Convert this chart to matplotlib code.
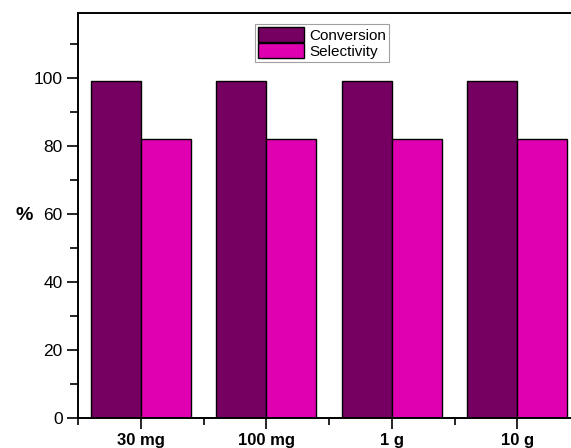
import matplotlib.pyplot as plt
import numpy as np
from matplotlib.ticker import MultipleLocator

plt.rcParams['font.family'] = ['Liberation Sans', 'DejaVu Sans']

# Catalyst amount vs. conversion / selectivity
amounts = ['30 mg', '100 mg', '1 g', '10 g']
conversion = [99, 99, 99, 99]
selectivity = [82, 82, 82, 82]

conv_color = '#760062'
sel_color = '#e000b2'

fig = plt.figure(figsize=(5.71, 4.48), dpi=100)
# axes run past the right edge of the figure, as in the cropped original
ax = fig.add_axes([78 / 571, 30 / 448, 502 / 571, 405 / 448])

x = np.arange(len(amounts))
w = 0.4
ax.bar(x - w / 2, conversion, width=w, color=conv_color, edgecolor='black',
       linewidth=1, label='Conversion')
ax.bar(x + w / 2, selectivity, width=w, color=sel_color, edgecolor='black',
       linewidth=1, label='Selectivity')

ax.set_xlim(-0.5, len(amounts) - 0.5)
ax.set_ylim(0, 119)
ax.set_xticks(x)
ax.set_xticklabels(amounts, fontsize=12, fontweight='bold')
ax.xaxis.set_minor_locator(MultipleLocator(1, offset=0.5))
ax.yaxis.set_major_locator(MultipleLocator(20))
ax.yaxis.set_minor_locator(MultipleLocator(10))
ax.tick_params(axis='y', which='major', direction='out', length=8, width=1.2, labelsize=12.5, pad=3)
ax.tick_params(axis='y', which='minor', direction='out', length=6, width=1.2)
ax.tick_params(axis='x', which='major', direction='out', length=8, width=1.2, pad=3)
ax.tick_params(axis='x', which='minor', direction='out', length=5, width=1.2)
for s in ax.spines.values():
    s.set_linewidth(1.4)

fig.text(16 / 571, 1 - 215 / 448, '%', fontsize=14, fontweight='bold',
         ha='left', va='center')

leg = ax.legend(loc='upper left', bbox_to_anchor=(255 / 571, 1 - 24 / 448),
                bbox_transform=fig.transFigure, fontsize=11, frameon=True,
                fancybox=False, borderpad=0.2, handlelength=3.0, handleheight=1.1,
                handletextpad=0.35, labelspacing=0.05, borderaxespad=0)
leg.get_frame().set_edgecolor('#888888')
leg.get_frame().set_linewidth(0.8)

fig.savefig('out.png', dpi=100)
